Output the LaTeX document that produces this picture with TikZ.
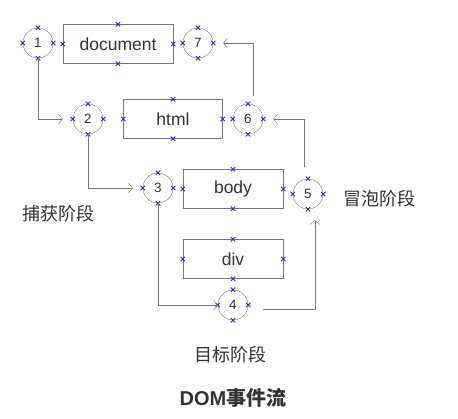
\documentclass[tikz,border=0pt]{standalone}
\usepackage{fontspec}
\setmainfont{Liberation Sans}
\newfontfamily\cjk{Noto Sans CJK SC}
\usetikzlibrary{positioning,shapes.misc,arrows.meta}
\definecolor{linegray}{HTML}{777777}
\definecolor{textgray}{HTML}{333333}
\definecolor{markblue}{HTML}{2323E6}
\begin{document}
\begin{tikzpicture}[x=1pt, y=-1pt,
        phase/.style={circle, draw=linegray, minimum size=30pt, inner sep=0pt, text=textgray, font=\fontsize{13.5}{16}\selectfont},
        elem/.style={draw=linegray, minimum width=100pt, minimum height=39pt, inner sep=0pt, text=textgray, font=\fontsize{17.5}{20}\selectfont},
        flow/.style={draw=linegray, -{Straight Barb[length=4pt, width=10pt]}},
        anchormark/.style={cross out, draw=markblue, minimum size=3.5pt, inner sep=0pt, line width=0.9pt},
        stage/.style={text=textgray, font=\cjk\fontsize{18}{21}\selectfont}]
        \useasboundingbox (0,0) rectangle (458,418);

        % capture side
        \node[phase] (p1) at (38,43) {1};
        \node[phase] (p2) at (88,119) {2};
        \node[phase] (p3) at (158,188) {3};
        \node[phase] (p4) at (233,305) {4};
        % bubble side
        \node[phase] (p5) at (308,194) {5};
        \node[phase] (p6) at (248,119) {6};
        \node[phase] (p7) at (198,43) {7};

        \node[elem, minimum width=110pt] (doc) at (118,44) {document};
        \node[elem, minimum width=99pt] (html) at (173,119) {html};
        \node[elem] (body) at (233,189) {body};
        \node[elem] (div) at (233,259) {div};

        \foreach \n in {p1,p2,p3,p4,p5,p6,p7,doc,html,body,div}
            \foreach \a in {north,south,east,west}
            {
                \node[anchormark] at (\n.\a) {};
            }

        \path[flow, shorten >=10pt] (p1.south) |- (p2.west);
        \path[flow, shorten >=10pt] (p2.south) |- (p3.west);
        \path[flow] (p3.south) |- (p4.west);
        \path[flow] ([xshift=15pt, yshift=-4pt]p4.east) -| ([xshift=7pt, yshift=-11pt]p5.south);
        \path[flow, shorten >=10pt] ([xshift=-4pt, yshift=12pt]p5.north) |- (p6.east);
        \path[flow, shorten >=10pt] ([xshift=5pt, yshift=8pt]p6.north) |- (p7.east);

        \node[stage] (capture) at (59,214) {捕获阶段};
        \node[stage] (bubble) at (379,199) {冒泡阶段};
        \node[stage] (target) at (230,355) {目标阶段};
        \node[text=textgray, font=\fontsize{20}{24}\selectfont\bfseries] (title) at (233,398) {DOM\cjk 事件流};
    \end{tikzpicture}
\end{document}
